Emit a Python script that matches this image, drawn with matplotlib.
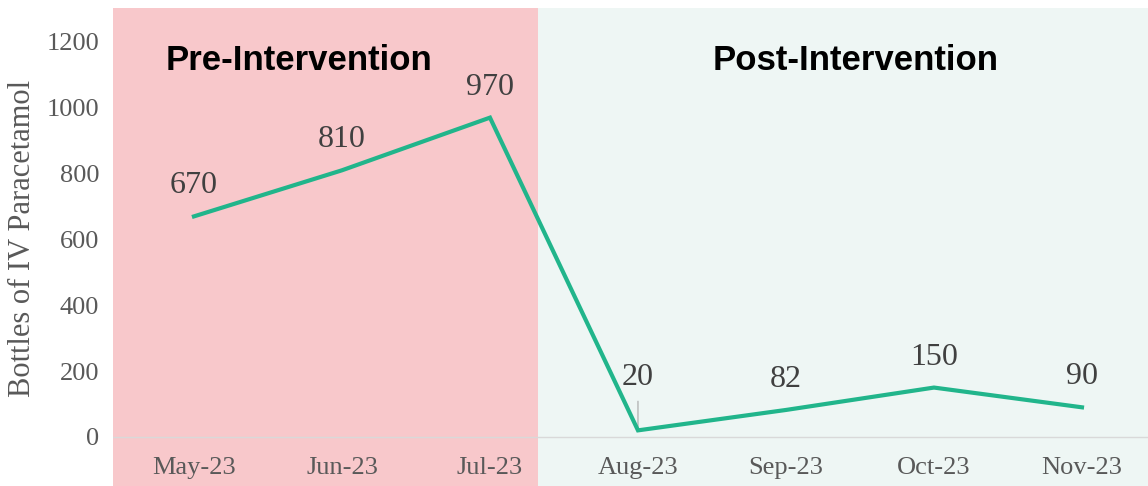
import matplotlib
matplotlib.use("Agg")
import matplotlib.pyplot as plt

months = ["May-23", "Jun-23", "Jul-23", "Aug-23", "Sep-23", "Oct-23", "Nov-23"]
bottles = [670, 810, 970, 20, 82, 150, 90]
yticks = [0, 200, 400, 600, 800, 1000, 1200]
ylabel = "Bottles of IV Paracetamol"
pre_label = "Pre-Intervention"
post_label = "Post-Intervention"

serif = ["Liberation Serif", "DejaVu Serif"]
sans = ["Liberation Sans", "DejaVu Sans"]

fig = plt.figure(figsize=(11.48, 4.86), dpi=100)
fig.patch.set_facecolor("white")
ax = fig.add_axes([113 / 1148, 0, 1 - 113 / 1148, (486 - 8) / 486])
ax.set_facecolor("#EEF6F4")

x = list(range(len(months)))
ax.set_xlim(-0.547, 6.446)
ax.set_ylim(-149, 1303)

# shaded pre-intervention zone
ax.axvspan(-0.547, 2.324, color="#F8C8CB", zorder=0, lw=0)
ax.axvspan(2.324, 6.446, color="#EEF6F4", zorder=0, lw=0)

# baseline
ax.axhline(0, color="#D9D9D9", lw=1.0, zorder=1)

ax.plot(x, bottles, color="#21B58B", lw=3.0, zorder=3, solid_joinstyle="miter")

for xi, v in zip(x, bottles):
    off = 22 if v != 20 else 38
    ax.annotate(str(v), (xi, v), xytext=(0, off), textcoords="offset points",
                ha="center", va="center", fontsize=23, color="#404040",
                family=serif, zorder=4)
# leader line for the small value
ax.annotate("", (x[3], bottles[3]), xytext=(0, 23), textcoords="offset points",
            arrowprops=dict(arrowstyle="-", color="#A6A6A6", lw=0.8), zorder=2)

for xi, m in zip(x, months):
    ax.text(xi, -94, m, ha="center", va="center", fontsize=19, color="#595959",
            family=serif)

ax.set_xticks([])
ax.set_yticks(yticks)
ax.set_yticklabels([str(t) for t in yticks], family=serif, fontsize=19, color="#595959")
ax.tick_params(axis="y", length=0, pad=10)
for s in ax.spines.values():
    s.set_visible(False)

fig.text(23 / 1148, 1 - 238 / 486, ylabel, rotation=90, ha="center", va="center",
         fontsize=22, color="#595959", family=serif)

ax.text(0.71, 1145, pre_label, ha="center", va="center", fontsize=25,
        fontweight="bold", color="black", family=sans)
ax.text(4.47, 1145, post_label, ha="center", va="center", fontsize=25,
        fontweight="bold", color="black", family=sans)

fig.savefig("out.png", dpi=100)
